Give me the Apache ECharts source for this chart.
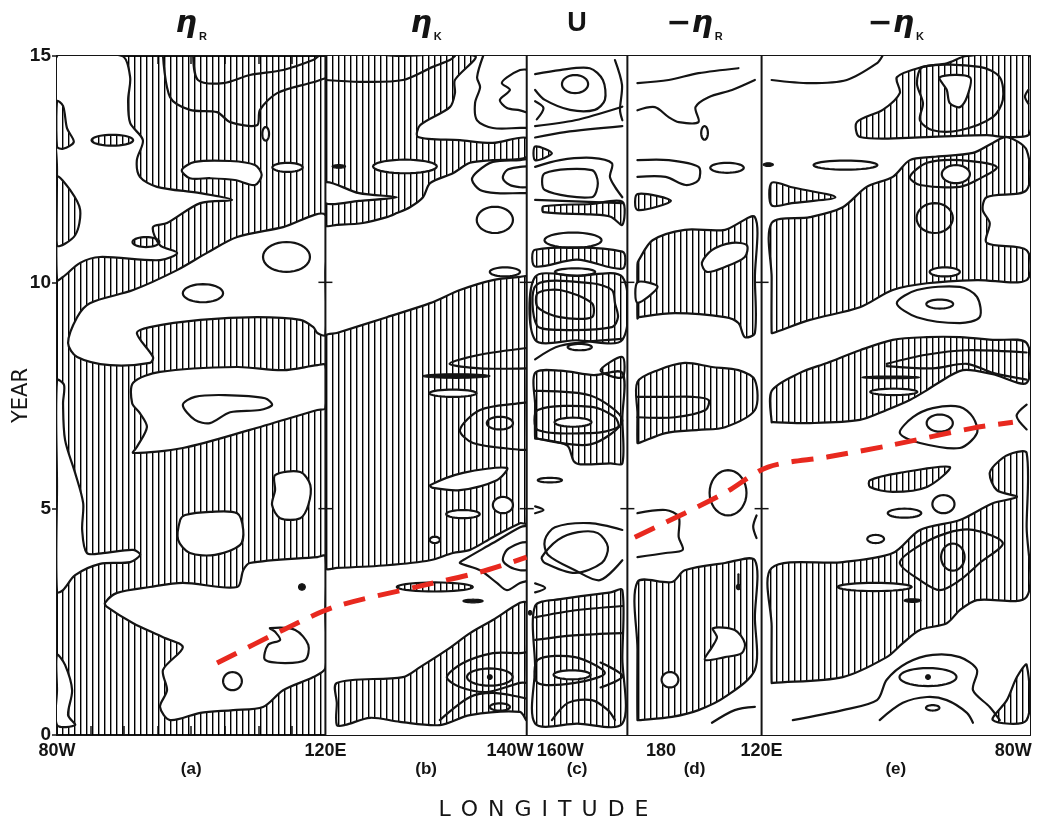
<!DOCTYPE html>
<html>
<head>
<meta charset="utf-8">
<script src="https://cdn.jsdelivr.net/npm/echarts@6/dist/echarts.min.js"></script>
<style>
html,body{margin:0;padding:0;background:#fff;}
#chart{width:1057px;height:824px;}
</style>
</head>
<body>
<div id="chart"></div>
<script>
// ---------------- data ----------------
// x: longitude index (10-degree grid steps across the five panels), y: year
const panelEdges = [0, 8, 14, 17, 21, 29];
const panelBase = [1, 0, 0, 0, 0];              // 1 = panel background hatched
const yearTicks = [0, 5, 10, 15];
const lonLabels = {0:'80W', 8:'120E', 13.5:'140W', 15:'160W', 18:'180', 21:'120E', 28.5:'80W'};
const panelLetters = {4:'(a)', 11:'(b)', 15.5:'(c)', 19:'(d)', 25:'(e)'};
const panelTitles = {4:'{e|η}{s|R}', 11:'{e|η}{s|K}', 15.5:'{u|U}', 19:'{e|−η}{s|R}', 25:'{e|−η}{s|K}'};

// regions: [fill, outline]  fill: h = hatched, w = blank
const regionsA = [
 ['w', [[0,15],[1.94,15],[2.18,14.53],[2.12,14.03],[2.18,13.52],[2.56,13.14],[2.38,12.7],[2.47,12.33],[2.98,12.11],[4.27,11.97],[5.22,11.82],[4.27,11.75],[3.28,11.31],[2.86,11.22],[3.07,10.82],[3.58,10.65],[3.07,10.49],[1.28,10.56],[0.69,10.43],[0.18,10.12],[0,10.05],[0,12.5]]],
 ['h', [[0,12.33],[0.39,12.04],[0.69,11.6],[0.54,11.04],[0,10.82]]],
 ['h', [[0,14.0],[0.18,13.9],[0.3,13.4],[0.5,13.1],[0.18,12.95],[0,13.0]]],
 ['w', [[8,11.49],[6.74,11.22],[5.37,11.0],[4.47,10.65],[3.58,10.27],[2.27,9.83],[0.98,9.54],[0.6,9.23],[0.33,8.66],[0.6,8.35],[1.58,8.17],[2.77,8.22],[2.86,8.35],[2.38,8.88],[2.77,9.01],[4.27,9.17],[5.97,9.23],[7.25,9.17],[7.64,9.01],[7.76,8.88],[8,8.84],[8,10.2]]],
 ['w', [[2.27,7.78],[3.07,8.02],[5.37,8.13],[6.74,8.06],[7.76,8.17],[8,8.17],[8,7.22],[7.76,7.18],[5.75,6.74],[3.75,6.34],[2.27,6.23],[2.38,6.36],[2.68,6.8],[2.47,7.11],[2.24,7.33]]],
 ['w', [[0,7.84],[0.21,7.73],[0.18,7.33],[0.24,6.52],[0.54,5.79],[0.78,5.12],[0.75,4.53],[0.89,4.02],[1.37,4.02],[2.27,4.09],[2.48,3.98],[2.18,3.82],[1.28,3.78],[0.54,3.53],[0.18,3.2],[0,3.16],[0,5.5]]],
 ['w', [[1.43,2.92],[1.79,3.14],[2.77,3.27],[3.75,3.36],[5.37,3.27],[5.55,3.64],[5.75,3.8],[7.76,3.93],[8,3.95],[8,2.7],[8,1.48],[7.64,1.28],[6.74,0.99],[6.14,0.62],[5.25,0.55],[4.27,0.49],[3.37,0.33],[3.07,0.62],[3.28,0.99],[3.16,1.44],[3.75,1.94],[3.16,2.16],[2.27,2.47],[1.49,2.83]]],
 ['w', [[0,1.77],[0.24,1.55],[0.45,0.99],[0.33,0.44],[0.54,0.22],[0,0.22],[0,1.0]]],
 ['w', [[3.72,12.48],[4.11,12.66],[5.16,12.68],[5.9,12.59],[6.1,12.37],[5.9,12.15],[5.3,12.26],[4.56,12.3],[3.96,12.3]]],
 ['w', [[3.67,4.75],[3.82,4.86],[4.56,4.93],[5.37,4.9],[5.55,4.53],[5.46,4.2],[4.71,3.98],[3.96,4.02],[3.61,4.31]]],
 ['w', [[6.5,5.74],[7.25,5.81],[7.55,5.52],[7.49,5.08],[7.25,4.79],[6.65,4.79],[6.41,5.08],[6.5,5.41]]]
];
const regionsB = [
 ['h', [[8,15],[10.2,15],[12.46,15],[11.86,14.47],[11.86,14.18],[11.71,13.87],[10.82,13.47],[10.76,13.21],[12.01,13.14],[12.99,13.08],[14,13.19],[14,12.77],[12.99,12.7],[12.31,12.64],[11.8,12.41],[11.12,12.19],[10.91,11.88],[10.52,11.66],[10.13,11.53],[9.83,11.44],[9.12,11.31],[8.34,11.27],[8,11.27],[8,13.2]]],
 ['w', [[8,12.21],[9.0,11.97],[10.13,11.88],[9.0,11.8],[8,11.75]]],
 ['h', [[8,8.81],[8.34,8.88],[9.83,9.23],[11.12,9.54],[12.01,9.83],[12.99,10.05],[13.8,10.12],[14,10.12],[14,7.4],[14,4.68],[13.8,4.68],[12.99,4.37],[12.31,4.09],[11.8,4.02],[11.12,3.86],[9.83,3.75],[8.34,3.69],[8,3.69],[8,6.2]]],
 ['w', [[11.12,5.52],[12.1,5.79],[13.41,5.9],[13.11,5.63],[12.01,5.41],[11.2,5.46]]],
 ['h', [[8.34,1.15],[10.31,1.28],[10.82,1.5],[11.62,1.88],[12.31,2.25],[12.99,2.54],[13.8,2.92],[14,2.92],[14,1.6],[14,0.33],[13.8,0.51],[12.31,0.44],[11.41,0.22],[10.22,0.29],[9.33,0.38],[8.58,0.22],[8.34,0.22],[8.34,0.7]]]
];
const regionsC = [
 ['h', [[14.25,13.0],[14.75,12.85],[14.25,12.7]]],
 ['h', [[14.5,11.68],[15.9,11.73],[16.85,11.78],[16.85,11.27],[16.5,11.45],[15.9,11.5],[14.5,11.55]]],
 ['h', [[14.25,10.72],[16.85,10.68],[16.85,10.3],[15.5,10.5],[14.25,10.35]]],
 ['h', [[14.25,10.12],[15.5,10.14],[16.85,10.12],[16.85,8.73],[15.5,8.72],[14.25,8.73]]],
 ['h', [[16.2,8.05],[16.85,8.35],[16.85,7.9]]],
 ['h', [[14.25,8.0],[15,8.05],[16,7.95],[16.85,8.0],[16.85,7.0],[16.85,6.0],[16.5,6.0],[15.6,5.98],[15.4,6.05],[15.2,6.4],[14.3,6.55],[14.25,6.55],[14.25,7.3]]],
 ['h', [[14.25,2.85],[15,3.0],[16.5,3.15],[16.85,3.2],[16.85,1.7],[16.85,0.25],[15.5,0.25],[14.25,0.25],[14.25,1.5]]]
];
const regionsD = [
 ['h', [[17.3,11.95],[18.3,11.8],[17.3,11.6]]],
 ['h', [[17.3,10.4],[17.34,10.49],[17.75,10.93],[18.71,11.16],[19.91,11.16],[20.8,11.44],[20.8,10.1],[20.8,8.88],[20.5,8.79],[20.31,9.1],[19.91,9.23],[18.42,9.32],[17.34,9.23],[17.3,9.2],[17.3,9.8]]],
 ['w', [[17.3,10.0],[17.9,9.9],[17.3,9.55]]],
 ['w', [[19.22,10.43],[19.52,10.71],[20.12,10.87],[20.56,10.82],[20.5,10.56],[19.91,10.34],[19.37,10.23]]],
 ['h', [[17.3,7.8],[17.91,8.06],[18.71,8.22],[19.52,8.13],[20.31,8.06],[20.8,7.84],[20.8,7.18],[19.91,6.8],[19.12,6.74],[18.14,6.67],[17.34,6.45],[17.3,6.45],[17.3,7.1]]],
 ['h', [[17.3,3.38],[18.33,3.38],[18.71,3.64],[19.91,3.8],[20.8,3.86],[20.8,2.6],[20.8,1.44],[19.91,0.84],[19.12,0.55],[18.33,0.4],[17.34,0.33],[17.3,0.33],[17.3,1.9]]],
 ['w', [[19.55,2.36],[20.2,2.32],[20.5,2.03],[20.41,1.81],[19.91,1.72],[19.31,1.66],[19.52,1.94],[19.67,2.16]]]
];
const regionsE = [
 ['h', [[23.93,13.21],[23.84,13.54],[24.61,13.81],[25.12,14.18],[25.03,14.53],[25.81,14.76],[26.52,14.84],[27.12,15],[29,15],[29,13.3],[28.31,13.21],[27.71,13.25],[25.93,13.21]]],
 ['w', [[26.31,14.53],[27.21,14.53],[27.12,14.09],[26.91,13.87],[26.61,13.96],[26.52,14.25]]],
 ['h', [[21.3,12.2],[21.9,12.1],[23.2,11.88],[21.9,11.75],[21.3,11.7]]],
 ['h', [[21.3,11.31],[22.44,11.44],[23.42,11.66],[24.13,12.11],[24.91,12.33],[25.42,12.7],[26.1,12.77],[27.3,12.86],[27.89,13.08],[28.31,13.21],[28.9,12.92],[28.9,12.04],[27.71,11.88],[27.59,11.6],[27.8,11.31],[27.71,10.87],[28.9,10.71],[28.9,10.05],[27.42,10.05],[25.93,9.98],[24.91,9.83],[23.93,9.45],[22.44,9.17],[21.34,8.88],[21.3,8.88],[21.3,10.1]]],
 ['h', [[21.3,7.6],[22.14,8.0],[22.95,8.22],[23.93,8.5],[24.91,8.73],[25.93,8.79],[26.91,8.79],[27.89,8.73],[28.9,8.66],[28.9,7.78],[27.89,7.97],[27.0,8.06],[26.2,7.75],[25.93,7.62],[25.42,7.4],[24.73,7.18],[23.93,6.96],[22.44,6.89],[21.34,6.91],[21.3,6.91]]],
 ['h', [[24.23,5.63],[25.12,5.79],[26.61,5.92],[25.93,5.48],[24.91,5.37],[24.23,5.48]]],
 ['h', [[21.3,3.69],[23.42,3.82],[24.91,4.02],[25.72,4.53],[26.91,4.75],[27.89,5.12],[28.61,5.26],[28.01,5.41],[27.8,5.79],[28.1,6.07],[28.49,6.23],[28.9,6.23],[28.9,4.6],[28.9,3.05],[27.42,2.98],[26.91,2.76],[26.52,2.47],[25.72,2.32],[25.21,2.03],[24.73,1.72],[23.42,1.28],[21.34,1.15],[21.3,1.15],[21.3,2.4]]],
 ['h', [[28.9,1.55],[28.61,1.28],[28.31,0.77],[27.89,0.33],[28.9,0.33]]]
];

// small closed contours: [x, year, half-width, half-height, fill]  (n = outline only, b = solid)
const loopsA = [[1.65,13.14,0.62,0.12,'h'],[2.65,10.89,0.4,0.11,'h'],[6.87,12.54,0.45,0.1,'w'],[6.22,13.28,0.1,0.15,'w'],[4.35,9.76,0.6,0.2,'n'],[6.84,10.56,0.7,0.33,'n'],[5.23,1.19,0.28,0.2,'n'],[7.3,3.27,0.1,0.07,'b']];
const loopsB = [[10.37,12.56,0.95,0.15,'w'],[8.4,12.56,0.2,0.04,'b'],[13.05,11.38,0.54,0.29,'n'],[13.35,10.23,0.45,0.1,'n'],[13.29,5.08,0.3,0.18,'w'],[12.1,4.88,0.5,0.09,'w'],[11.26,4.31,0.15,0.07,'w'],[13.2,6.89,0.39,0.14,'n'],[11.9,7.93,1.0,0.05,'b'],[11.8,7.55,0.7,0.08,'w'],[11.26,3.27,1.13,0.1,'h'],[12.4,2.96,0.3,0.04,'b'],[12.9,1.28,0.68,0.19,'n'],[12.9,1.28,0.07,0.05,'b'],[13.2,0.62,0.3,0.08,'n']];
const loopsC = [[15.44,14.38,0.39,0.2,'n'],[15.38,10.93,0.85,0.17,'n'],[15.44,10.23,0.6,0.08,'n'],[15.58,8.57,0.36,0.07,'n'],[15.38,6.91,0.55,0.1,'w'],[14.69,5.63,0.36,0.05,'n'],[15.35,1.33,0.55,0.1,'w'],[14.1,2.7,0.05,0.05,'b']];
const loopsD = [[19.3,13.3,0.1,0.15,'n'],[19.97,12.53,0.5,0.11,'n'],[20.0,5.35,0.55,0.5,'n'],[18.27,1.22,0.25,0.17,'w'],[20.31,3.27,0.06,0.06,'b']];
const loopsE = [[23.5,12.59,0.95,0.1,'n'],[21.2,12.6,0.15,0.04,'b'],[26.79,12.39,0.42,0.2,'w'],[26.16,11.42,0.54,0.33,'n'],[26.46,10.23,0.45,0.1,'w'],[26.31,9.52,0.4,0.1,'n'],[24.94,7.58,0.7,0.07,'w'],[24.85,7.9,0.85,0.03,'b'],[26.31,6.89,0.39,0.19,'n'],[24.4,4.33,0.25,0.09,'n'],[25.26,4.9,0.5,0.1,'n'],[26.42,5.1,0.33,0.2,'n'],[24.37,3.27,1.1,0.09,'w'],[25.5,2.97,0.25,0.04,'b'],[26.7,3.93,0.35,0.3,'n'],[25.96,1.28,0.85,0.2,'n'],[25.96,1.28,0.07,0.05,'b'],[26.1,0.6,0.2,0.06,'n']];

// other contour lines: [closed, points]
const linesA = [
 [0, [[3.16,15],[3.37,14.09],[3.96,13.81],[4.77,13.76],[5.16,13.54],[5.96,13.47],[6.05,13.81],[6.56,14.18],[7.63,14.42],[8,14.51]]],
 [0, [[4.06,15],[4.2,14.47],[4.95,14.4],[5.75,14.58],[6.74,14.69],[7.63,14.91],[7.8,15]]],
 [1, [[3.75,7.29],[4.11,7.47],[5.0,7.51],[6.2,7.44],[6.41,7.29],[6.05,7.18],[5.16,7.13],[4.56,6.89],[4.11,6.96]]],
 [1, [[6.35,2.36],[7.1,2.32],[7.49,1.99],[7.4,1.66],[6.8,1.59],[6.2,1.66],[6.29,1.99],[6.65,2.1],[6.5,2.28]]]
];
const linesB = [
 [0, [[8,14.47],[9.03,14.43],[10.31,14.47],[11.2,14.76],[11.71,14.91],[11.86,15]]],
 [0, [[12.7,15],[12.52,14.53],[12.61,14.31],[12.46,13.96],[12.52,13.58],[12.99,13.41],[13.8,13.41],[14,13.41]]],
 [0, [[14,13.75],[13.8,13.8],[13.41,13.85],[13.2,14.03],[13.5,14.25],[13.26,14.4],[13.41,14.53],[13.8,14.69],[14,14.7]]],
 [0, [[14,12.72],[13.8,12.7],[12.99,12.66],[12.52,12.44],[12.37,12.26],[12.61,12.04],[13.11,11.97],[13.8,11.97],[14,11.97]]],
 [0, [[14,12.56],[13.8,12.55],[13.41,12.48],[13.29,12.3],[13.5,12.15],[13.8,12.1],[14,12.1]]],
 [0, [[14,7.35],[13.8,7.33],[12.61,7.18],[12.01,6.74],[12.4,6.45],[13.8,6.3],[14,6.3]]],
 [0, [[14,8.55],[12.6,8.4],[11.7,8.2],[12.6,8.1],[14,8.1]]],
 [0, [[14,4.62],[13.8,4.59],[12.99,4.24],[12.1,3.86],[12.01,3.8],[12.61,3.64],[13.11,3.36],[13.41,3.2],[13.8,3.36],[14,3.4]]],
 [0, [[14,4.26],[13.8,4.24],[13.41,4.09],[13.29,3.86],[13.5,3.71],[13.8,3.64],[14,3.64]]],
 [0, [[14,1.83],[13.8,1.81],[12.99,1.81],[12.1,1.59],[11.62,1.28],[12.01,1.06],[12.81,0.95],[13.8,1.15],[14,1.15]]],
 [0, [[11.41,0.33],[12.31,0.84],[12.99,0.93],[13.8,0.84],[14,0.8]]]
];
const linesC = [
 [0, [[14.25,14.6],[14.99,14.69],[15.88,14.73],[16.27,14.47],[16.33,14.03],[16.03,13.81],[15.29,13.81],[14.54,14.03],[14.25,14.25]]],
 [0, [[16.63,14.91],[16.84,14.36],[16.78,13.81],[16.85,13.58]]],
 [0, [[14.25,14.0],[14.5,13.85],[14.3,13.6]]],
 [0, [[14.25,13.45],[15.44,13.58],[16.85,13.88]]],
 [0, [[14.25,13.2],[15.14,13.32],[16.85,13.45]]],
 [0, [[14.25,12.55],[14.99,12.7],[15.94,12.75],[16.54,12.63],[16.48,12.33],[16.63,12.11],[16.85,11.88]]],
 [1, [[14.54,12.41],[15.94,12.48],[16.12,12.19],[15.94,11.88],[14.54,12.04]]],
 [0, [[14.25,11.82],[16.85,11.75]]],
 [1, [[14.33,9.76],[14.99,9.83],[15.94,9.54],[15.94,9.23],[14.99,9.23],[14.33,9.45]]],
 [1, [[14.3,9.95],[15.94,9.98],[16.54,9.83],[16.63,9.54],[16.72,9.23],[16.54,9.01],[14.99,8.95],[14.3,9.05]]],
 [0, [[14.25,8.3],[15,8.6],[16.85,8.75]]],
 [1, [[14.33,7.18],[15.94,7.25],[16.63,7.02],[16.72,6.8],[15.94,6.67],[14.33,6.74]]],
 [0, [[14.25,7.6],[15.9,7.5],[16.85,6.95],[15.9,6.42],[14.3,6.55]]],
 [0, [[14.25,5.05],[14.5,4.97],[14.25,4.9]]],
 [1, [[14.45,3.93],[14.93,4.31],[15.53,4.48],[16.12,4.46],[16.42,4.15],[16.24,3.8],[15.44,3.58],[14.54,3.8]]],
 [0, [[16.85,4.53],[15.88,4.68],[14.84,4.59],[14.54,4.31],[14.63,3.98],[15.44,3.64],[16.18,3.42],[16.85,3.86]]],
 [0, [[14.25,3.35],[14.55,3.25],[14.25,3.15]]],
 [0, [[14.25,2.6],[15.4,2.75],[16.85,2.85]]],
 [0, [[14.25,2.1],[15.4,2.2],[16.85,2.25]]],
 [1, [[14.33,1.66],[15.44,1.72],[16.33,1.37],[15.44,1.15],[14.33,1.15]]],
 [0, [[16.2,1.6],[16.85,1.3],[16.2,1.05]]],
 [0, [[14.75,0.33],[15.23,0.71],[15.94,0.77],[16.42,0.55],[16.63,0.33]]]
];
const linesD = [
 [0, [[17.3,14.4],[18.23,14.47],[19.12,14.62],[20.31,14.73]]],
 [0, [[17.3,13.8],[17.82,13.87],[18.23,13.65],[18.53,13.54],[19.12,13.54],[19.03,13.87],[19.42,14.09],[20.12,14.25],[20.8,14.47]]],
 [0, [[17.3,12.7],[18.23,12.7],[19.12,12.55],[19.12,12.26],[18.74,12.15],[18.14,12.33],[17.3,12.33]]],
 [0, [[17.3,7.47],[18.23,7.47],[18.95,7.47],[19.42,7.4],[19.33,7.18],[18.42,7.02],[17.3,7.02]]],
 [0, [[17.3,4.9],[18.14,4.97],[18.53,4.82],[18.53,4.37],[18.65,4.09],[18.14,4.02],[17.3,3.93]]],
 [0, [[20.85,4.85],[20.75,4.6],[20.85,4.35]]],
 [0, [[20.31,3.27],[20.31,3.55]]],
 [0, [[19.52,0.27],[20.2,0.55],[20.8,0.62]]]
];
const linesE = [
 [0, [[21.3,14.47],[22.44,14.4],[23.54,14.47],[24.44,14.84],[24.6,15]]],
 [1, [[25.81,14.76],[25.63,14.4],[25.81,13.96],[25.72,13.58],[26.1,13.36],[26.91,13.36],[27.89,13.65],[28.19,14.03],[28.1,14.53],[27.5,14.76]]],
 [0, [[28.95,14.25],[28.85,14.1],[28.95,13.95]]],
 [1, [[25.42,12.33],[25.93,12.64],[26.91,12.7],[28.01,12.55],[27.42,12.26],[26.91,12.11],[25.72,12.15]]],
 [1, [[25.03,9.54],[25.63,9.83],[26.91,9.9],[27.42,9.68],[27.5,9.23],[26.91,9.1],[25.63,9.23]]],
 [0, [[24.73,8.2],[25.9,8.4],[27.1,8.5],[28.9,8.45]]],
 [0, [[24.73,8.15],[26.1,8.1],[27.12,8.2],[27.89,8.0],[28.9,7.85]]],
 [1, [[25.12,6.67],[25.51,7.02],[26.1,7.22],[26.91,7.25],[27.3,7.02],[27.42,6.67],[26.91,6.34],[25.72,6.45]]],
 [0, [[28.9,7.3],[28.6,7.05],[28.9,6.75]]],
 [1, [[25.12,3.8],[25.63,4.15],[26.52,4.46],[27.3,4.53],[28.19,4.24],[27.5,3.8],[26.91,3.42],[26.31,3.2],[25.72,3.42]]],
 [0, [[21.93,0.33],[23.42,0.55],[24.44,0.77],[24.73,1.22],[25.33,1.59],[26.1,1.77],[26.91,1.72],[27.42,1.44],[27.3,0.99],[27.8,0.62],[28.1,0.33]]],
 [0, [[24.52,0.33],[25.21,0.71],[25.93,0.84],[26.52,0.77],[27.12,0.49],[27.3,0.27]]]
];

// red dashed propagation line
const redWest = [[4.77,1.59],[6.74,2.32],[8.28,2.83],[10.82,3.29],[12.61,3.6],[14,3.93]];
const redEast = [[17.22,4.37],[18.71,4.9],[19.91,5.35],[21.19,5.92],[22.95,6.14],[24.91,6.41],[27.3,6.78],[28.49,6.91]];

// ---------------- drawing ----------------
const INK = '#141414';
const FONT = '"Liberation Sans", Arial, sans-serif';
const hatchCanvas = (function(){
  const c = document.createElement('canvas'); c.width = 6; c.height = 4;
  const g = c.getContext('2d');
  g.fillStyle = '#000'; g.fillRect(2, 0, 1, 4);
  g.fillStyle = 'rgba(0,0,0,0.4)'; g.fillRect(3, 0, 1, 4);
  return c;
})();
const HATCH = {image: hatchCanvas, repeat: 'repeat'};
function fillOf(t){ return t === 'h' ? HATCH : t === 'w' ? '#ffffff' : t === 'b' ? INK : 'none'; }

function tag(list){ return list.map((arr, p) => arr.map(item => [p, item])).flat(); }
const allRegions = tag([regionsA, regionsB, regionsC, regionsD, regionsE]);
const allLoops = tag([loopsA, loopsB, loopsC, loopsD, loopsE]);
const allLines = tag([linesA, linesB, linesC, linesD, linesE]);

function panelClip(api, p){
  const a = api.coord([panelEdges[p], 15]), b = api.coord([panelEdges[p+1], 0]);
  return {type:'rect', shape:{x:a[0], y:a[1], width:b[0]-a[0], height:b[1]-a[1]}};
}

const chart = echarts.init(document.getElementById('chart'), null, {renderer:'canvas'});

const hiddenAxis = {axisLine:{show:false}, axisTick:{show:false}, splitLine:{show:false}};

const option = {
  animation: false,
  backgroundColor: '#ffffff',
  grid: {left:57, right:27, top:56, bottom:89, containLabel:false, outerBoundsMode:'none'},
  xAxis: [
    {type:'value', min:0, max:29, interval:1, position:'bottom',
     axisLine:{show:true, onZero:false, lineStyle:{color:INK, width:2}},
     axisTick:{show:true, inside:true, length:9, lineStyle:{color:INK, width:1.5}},
     axisLabel:{show:false}, splitLine:{show:false}},
    {type:'value', min:0, max:29, interval:1, position:'top',
     axisLine:{show:true, onZero:false, lineStyle:{color:INK, width:2}},
     axisTick:{show:true, inside:true, length:8, lineStyle:{color:INK, width:1.5}},
     axisLabel:{show:false}, splitLine:{show:false}},
    Object.assign({type:'value', min:0, max:29, interval:0.5, position:'bottom',
     axisLabel:{show:true, margin:7, formatter:v => lonLabels[v] || '', color:INK, fontSize:18, fontWeight:'bold', fontFamily:FONT}}, hiddenAxis),
    Object.assign({type:'value', min:0, max:29, interval:0.5, position:'bottom', offset:22,
     axisLabel:{show:true, margin:4, formatter:v => panelLetters[v] || '', color:INK, fontSize:17, fontWeight:'bold', fontFamily:FONT},
     name:'{l|L}{l|O}{l|N}{l|G}{l|I}{l|T}{l|U}{l|D}{l|E}', nameLocation:'middle', nameGap:42, nameMoveOverlap:false,
     nameTextStyle:{color:INK, rich:{l:{fontSize:22, fontFamily:'"DejaVu Sans", sans-serif', color:INK, padding:[0,5]}}}}, hiddenAxis),
    Object.assign({type:'value', min:0, max:29, interval:0.5, position:'top',
     axisLabel:{show:true, margin:14, formatter:v => panelTitles[v] || '', color:INK,
       rich:{
         e:{fontSize:30, fontWeight:'bold', fontStyle:'italic', fontFamily:'"DejaVu Sans", sans-serif', color:INK, lineHeight:36},
         s:{fontSize:11, fontWeight:'bold', fontFamily:FONT, color:INK, verticalAlign:'bottom', lineHeight:36, padding:[0,0,0,2]},
         u:{fontSize:27, fontWeight:'bold', fontFamily:FONT, color:INK, lineHeight:36}
       }}}, hiddenAxis)
  ],
  yAxis: [
    {type:'value', min:0, max:15, interval:5, position:'left',
     axisLine:{show:true, onZero:false, lineStyle:{color:INK, width:2}},
     axisTick:{show:true, length:5, lineStyle:{color:INK, width:1.5}},
     axisLabel:{margin:6, color:INK, fontSize:19, fontWeight:'bold', fontFamily:FONT,
                formatter: v => yearTicks.indexOf(v) >= 0 ? String(v) : ''},
     splitLine:{show:false},
     name:'YEAR', nameLocation:'middle', nameGap:25, nameMoveOverlap:false,
     nameTextStyle:{color:INK, fontSize:21, fontFamily:'"DejaVu Sans", sans-serif'}},
    {type:'value', min:0, max:15, interval:5, position:'right',
     axisLine:{show:true, onZero:false, lineStyle:{color:INK, width:2}},
     axisTick:{show:true, inside:true, length:8, lineStyle:{color:INK, width:1.5}},
     axisLabel:{show:false}, splitLine:{show:false}}
  ],
  series: [
    {type:'custom', coordinateSystem:'cartesian2d', z:1, silent:true,
     data: panelBase.map((b, i) => [panelEdges[i], 0]),
     renderItem: (params, api) => {
       const i = params.dataIndex;
       const a = api.coord([panelEdges[i], 15]), b = api.coord([panelEdges[i+1], 0]);
       return {type:'rect', shape:{x:a[0], y:a[1], width:b[0]-a[0], height:b[1]-a[1]},
               style:{fill: panelBase[i] ? HATCH : '#ffffff'}};
     }},
    {type:'custom', coordinateSystem:'cartesian2d', z:2, silent:true,
     data: allRegions.map(r => r[1][1][0]),
     renderItem: (params, api) => {
       const r = allRegions[params.dataIndex];
       const pts = r[1][1].map(v => api.coord(v));
       return {type:'group', clipPath: panelClip(api, r[0]), children:[
         {type:'polygon', shape:{points:pts, smooth:0.3},
          style:{fill: fillOf(r[1][0]), stroke:INK, lineWidth:2.2, lineJoin:'round'}}]};
     }},
    {type:'custom', coordinateSystem:'cartesian2d', z:3, silent:true,
     data: allLoops.map(l => [l[1][0], l[1][1]]),
     renderItem: (params, api) => {
       const l = allLoops[params.dataIndex][1];
       const c = api.coord([l[0], l[1]]);
       const s = api.size([l[2], l[3]]);
       const pts = [];
       for (let k = 0; k < 36; k++) {
         const t = 2 * Math.PI * k / 36;
         pts.push([c[0] + s[0] * Math.cos(t), c[1] + s[1] * Math.sin(t)]);
       }
       return {type:'polygon', shape:{points:pts},
               style:{fill: fillOf(l[4]), stroke:INK, lineWidth: l[4] === 'b' ? 1.2 : 2.2}};
     }},
    {type:'custom', coordinateSystem:'cartesian2d', z:4, silent:true,
     data: allLines.map(l => l[1][1][0]),
     renderItem: (params, api) => {
       const l = allLines[params.dataIndex];
       const pts = l[1][1].map(v => api.coord(v));
       return {type:'group', clipPath: panelClip(api, l[0]), children:[
         {type: l[1][0] ? 'polygon' : 'polyline', shape:{points:pts, smooth:0.3},
          style:{fill:'none', stroke:INK, lineWidth:2.2, lineJoin:'round', lineCap:'round'}}]};
     }},
    {type:'custom', coordinateSystem:'cartesian2d', z:5, silent:true,
     data: panelEdges.slice(1, -1).map(x => [x, 0]),
     renderItem: (params, api) => {
       const x = panelEdges[params.dataIndex + 1];
       const top = api.coord([x, 15]), bot = api.coord([x, 0]);
       const kids = [{type:'line', shape:{x1:top[0], y1:top[1], x2:bot[0], y2:bot[1]},
                      style:{stroke:INK, lineWidth:2}}];
       yearTicks.slice(1, -1).forEach(yv => {
         const c = api.coord([x, yv]);
         kids.push({type:'line', shape:{x1:c[0]-7, y1:c[1], x2:c[0]+7, y2:c[1]},
                    style:{stroke:INK, lineWidth:1.5}});
       });
       return {type:'group', children:kids};
     }},
    {type:'line', data: redWest, smooth:0.3, symbol:'none', z:6, silent:true,
     lineStyle:{color:'#e8291f', width:5, type:[22,13], cap:'butt'}},
    {type:'line', data: redEast, smooth:0.3, symbol:'none', z:6, silent:true,
     lineStyle:{color:'#e8291f', width:5, type:[22,13], cap:'butt'}}
  ]
};
chart.setOption(option);
</script>
</body>
</html>
